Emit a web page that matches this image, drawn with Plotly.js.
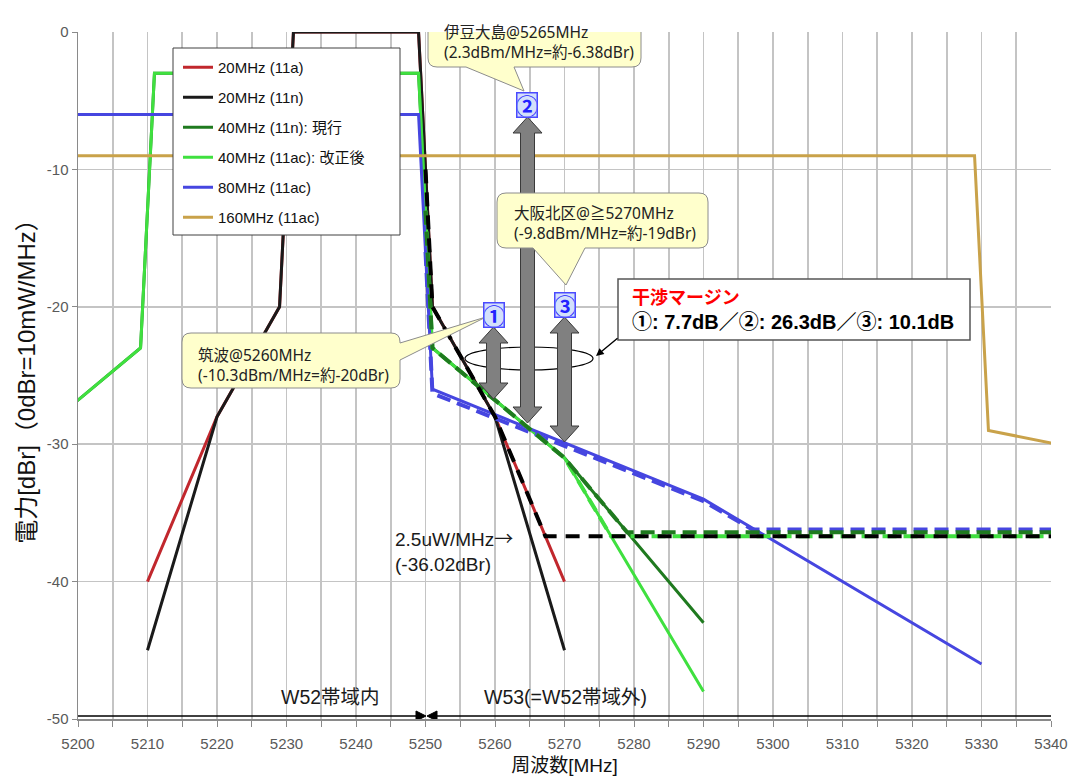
<!DOCTYPE html>
<html><head><meta charset="utf-8">
<script src="https://cdn.plot.ly/plotly-3.0.1.min.js"></script>
<style>html,body{margin:0;padding:0;background:#fff}#chart{width:1069px;height:778px}</style>
</head><body><div id="chart"></div>
<script>
// ---- data (frequency in MHz, power in dBr) ----
const freq20 = [5210, 5220, 5229, 5231, 5249, 5251, 5260, 5270];
const pwr20a = [-40, -28, -20, 0, 0, -20, -28, -40];
const pwr20n = [-45, -28, -20, 0, 0, -20, -28, -45];
const freq40 = [5190, 5209, 5211, 5249, 5251, 5270, 5290];
const pwr40n = [-31, -23, -3, -3, -23, -31, -43];
const pwr40ac = [-31, -23, -3, -3, -23, -31, -48];
const freq80 = [5169, 5171, 5249, 5251, 5290, 5330];
const pwr80 = [-26, -6, -6, -26, -34, -46];
const freq160 = [5169, 5171, 5329, 5331, 5410];
const pwr160 = [-29, -9, -9, -29, -37];
// proposed masks with 2.5uW/MHz floor (dashed)
const freqDash20 = [5250, 5251, 5260, 5267.25, 5340];
const pwrDash20 = [-10, -20, -28, -36.7, -36.7];
const freqDash40n = [5250, 5251, 5270, 5279, 5340];
const pwrDash40n = [-13, -23, -31, -36.4, -36.4];
const freqDash40ac = [5250, 5251, 5270, 5276.7, 5340];
const pwrDash40ac = [-13, -23, -31, -36.7, -36.7];
const freqDash80 = [5250, 5251, 5290, 5297, 5340];
const pwrDash80 = [-16, -26.3, -34.15, -36.2, -36.2];
const seriesNames = ['20MHz (11a)', '20MHz (11n)', '40MHz (11n): 現行', '40MHz (11ac): 改正後', '80MHz (11ac)', '160MHz (11ac)'];
const xTicks = [5200, 5210, 5220, 5230, 5240, 5250, 5260, 5270, 5280, 5290, 5300, 5310, 5320, 5330, 5340];
const yTicks = [0, -10, -20, -30, -40, -50];

const C = {red:'#c1272d', black:'#1a1a1a', dgreen:'#1f7a1f', lgreen:'#3fe03f', blue:'#4646e0', tan:'#c9a24a'};

// ---- layout geometry ----
const W = 1069, H = 778, ML = 78, MR = 18, MT = 32, MB = 59;
const XR = [5200, 5340], YR = [-50, 0];
function X(px){ return XR[0] + (px - ML) / (W - ML - MR) * (XR[1] - XR[0]); }
function Y(py){ return YR[1] - (py - MT) / (H - MT - MB) * (YR[1] - YR[0]); }
function P(px, py){ return X(px).toFixed(4) + ',' + Y(py).toFixed(4); }

function line(x, y, name, color, width, dash, show, grp){
  return {x:x, y:y, type:'scatter', mode:'lines', name:name, showlegend:show,
          legendgroup:grp, line:{color:color, width:width, dash:dash || 'solid'},
          hoverinfo:'skip'};
}
const traces = [
  line(freq20, pwr20a, seriesNames[0], C.red, 3, null, true, 'g0'),
  line(freq20, pwr20n, seriesNames[1], C.black, 3, null, true, 'g1'),
  line(freq40, pwr40n, seriesNames[2], C.dgreen, 3, null, true, 'g2'),
  line(freq40, pwr40ac, seriesNames[3], C.lgreen, 3, null, true, 'g3'),
  line(freq80, pwr80, seriesNames[4], C.blue, 3, null, true, 'g4'),
  line(freq160, pwr160, seriesNames[5], C.tan, 3, null, true, 'g5'),
  line(freqDash80, pwrDash80, 'd80', C.blue, 4, '14px,7px', false, 'd'),
  line(freqDash40ac, pwrDash40ac, 'd40ac', C.lgreen, 4, '14px,7px', false, 'd'),
  line(freqDash40n, pwrDash40n, 'd40n', C.dgreen, 4, '14px,7px', false, 'd'),
  line(freqDash20, pwrDash20, 'd20', '#000', 4, '14px,9px', false, 'd')
];

function bubble(x0, y0, x1, y1, r, ptr){
  let d = 'M' + P(x0 + r, y0) + ' L' + P(x1 - r, y0) + ' Q' + P(x1, y0) + ' ' + P(x1, y0 + r);
  if (ptr.side === 'right') d += ' L' + P(x1, ptr.a) + ' L' + P(ptr.tx, ptr.ty) + ' L' + P(x1, ptr.b);
  d += ' L' + P(x1, y1 - r) + ' Q' + P(x1, y1) + ' ' + P(x1 - r, y1);
  if (ptr.side === 'bottom') d += ' L' + P(ptr.b, y1) + ' L' + P(ptr.tx, ptr.ty) + ' L' + P(ptr.a, y1);
  d += ' L' + P(x0 + r, y1) + ' Q' + P(x0, y1) + ' ' + P(x0, y1 - r) + ' L' + P(x0, y0 + r) + ' Q' + P(x0, y0) + ' ' + P(x0 + r, y0) + ' Z';
  return {type:'path', xref:'x', yref:'y', path:d, fillcolor:'#FFFFCC', line:{color:'#8c8c8c', width:1}, layer:'above'};
}
function dblArrow(cx, ty, by){
  const sw = 7, hw = 14.5, hh = 16;
  const pts = [[cx, ty], [cx + hw, ty + hh], [cx + sw, ty + hh], [cx + sw, by - hh], [cx + hw, by - hh], [cx, by],
               [cx - hw, by - hh], [cx - sw, by - hh], [cx - sw, ty + hh], [cx - hw, ty + hh]];
  const d = 'M' + pts.map(p => P(p[0], p[1])).join(' L') + ' Z';
  return {type:'path', xref:'x', yref:'y', path:d, fillcolor:'#808080', line:{color:'#3a3a3a', width:1}, layer:'above'};
}
function tri(pts){
  return {type:'path', xref:'x', yref:'y', path:'M' + pts.map(p => P(p[0], p[1])).join(' L') + ' Z',
          fillcolor:'#000', line:{color:'#000', width:1}, layer:'above'};
}

const shapes = [
  // legend background box
  {type:'rect', xref:'x', yref:'y', x0:X(173), x1:X(400), y0:Y(48), y1:Y(235), fillcolor:'#fff', line:{color:'#404040', width:1}, layer:'above'},
  // W52 / W53 band arrows
  {type:'line', xref:'x', yref:'y', x0:X(ML), x1:X(418), y0:Y(716), y1:Y(716), line:{color:'#000', width:1.5}, layer:'above'},
  {type:'line', xref:'x', yref:'y', x0:X(435), x1:X(W - MR), y0:Y(716), y1:Y(716), line:{color:'#000', width:1.5}, layer:'above'},
  tri([[416, 711], [426, 716], [416, 721]]),
  tri([[437, 711], [427, 716], [437, 721]]),
  // ellipse
  {type:'circle', xref:'x', yref:'y', x0:X(465), x1:X(593), y0:Y(347), y1:Y(370), line:{color:'#000', width:1.2}, layer:'above'},
  dblArrow(493.5, 327, 399),
  dblArrow(527.5, 117, 423),
  dblArrow(564.5, 317, 442),
  bubble(428, 12, 641, 67, 9, {side:'bottom', a:466, b:514, tx:524, ty:91}),
  bubble(497, 193, 708, 248, 9, {side:'bottom', a:533, b:585, tx:566, ty:285}),
  bubble(182, 333, 400, 388, 9, {side:'right', a:343, b:360, tx:486, ty:317}),
  // interference margin box
  {type:'rect', xref:'x', yref:'y', x0:X(618), x1:X(970), y0:Y(279), y1:Y(340), fillcolor:'#fff', line:{color:'#555', width:1.5}, layer:'above'}
];

const JP = 'Noto Sans, Noto Sans CJK JP, sans-serif';
const AR = 'Liberation Sans, Noto Sans CJK JP, sans-serif';
function txt(px, py, text, size, color, family, extra){
  return Object.assign({xref:'x', yref:'y', x:X(px), y:Y(py), text:text, showarrow:false,
    xanchor:'left', yanchor:'middle', align:'left', font:{size:size, color:color, family:family}}, extra || {});
}
function marker(px, py, text){
  return {xref:'x', yref:'y', x:X(px), y:Y(py), text:'<b>' + text + '</b>', showarrow:false, xanchor:'center', yanchor:'middle',
    font:{size:23, color:'#2323ff', family:'Noto Sans CJK JP'}, bgcolor:'#d3e0fb', bordercolor:'#4a4aff',
    borderwidth:1.5, borderpad:0, width:19, height:23};
}
const annotations = [
  txt(442, 42, '伊豆大島@5265MHz<br>(2.3dBm/MHz=約-6.38dBr)', 15.5, '#222', JP),
  txt(512, 222.5, '大阪北区@≧5270MHz<br>(-9.8dBm/MHz=約-19dBr)', 15.5, '#222', JP),
  txt(196, 365, '筑波@5260MHz<br>(-10.3dBm/MHz=約-20dBr)', 15.5, '#222', JP),
  txt(630, 298, '<b>干渉マージン</b>', 18, '#ff0000', AR),
  txt(630, 322, '<b>①: 7.7dB／②: 26.3dB／③: 10.1dB</b>', 20, '#000', AR),
  txt(393, 549.5, '2.5uW/MHz<span style="font-family:Noto Sans CJK JP">→</span><br>(-36.02dBr)', 19, '#1a1a1a', AR),
  txt(279, 697, 'W52帯域内', 19.5, '#1a1a1a', AR),
  txt(482, 697, 'W53(=W52帯域外)', 19.5, '#1a1a1a', AR),
  marker(493.5, 315, '①'),
  marker(527, 105, '②'),
  marker(565, 305, '③'),
  {xref:'x', yref:'y', x:X(596), y:Y(356), ax:X(619), ay:Y(337), axref:'x', ayref:'y', text:'',
   showarrow:true, arrowhead:2, arrowsize:1.1, arrowwidth:1.4, arrowcolor:'#000', standoff:0}
];

const grid = '#c4c4c4';
const layout = {
  width:W, height:H, margin:{l:ML, r:MR, t:MT, b:MB}, paper_bgcolor:'#fff', plot_bgcolor:'#fff',
  font:{family:AR, color:'#595959', size:15},
  showlegend:true,
  legend:{x:(178 - ML) / (W - ML - MR), y:1 - (51 - MT) / (H - MT - MB), xanchor:'left', yanchor:'top',
          bgcolor:'rgba(0,0,0,0)', borderwidth:0, tracegroupgap:7.5,
          font:{family:AR, size:15, color:'#111'}},
  xaxis:{range:XR, tickvals:xTicks, ticktext:xTicks.map(String), showgrid:true, gridcolor:grid, gridwidth:1.8,
         zeroline:false, showline:true, linecolor:'#8a8a8a', linewidth:1.5, ticks:'outside', ticklen:6, tickcolor:'#8a8a8a',
         tickfont:{size:15, color:'#595959', family:AR}, ticklabelstandoff:4,
         minor:{dtick:5, showgrid:true, gridcolor:grid, gridwidth:1.8, ticks:'outside', ticklen:6, tickcolor:'#8a8a8a'},
         title:{text:'周波数[MHz]', font:{size:19, color:'#111', family:AR}, standoff:8}},
  yaxis:{range:YR, tickvals:yTicks, ticktext:yTicks.map(String), showgrid:true, gridcolor:grid, gridwidth:1.8,
         zeroline:false, showline:true, linecolor:'#8a8a8a', linewidth:1.5, ticks:'outside', ticklen:5, tickcolor:'#8a8a8a',
         tickfont:{size:15, color:'#595959', family:AR},
         title:{text:'電力[dBr]（0dBr=10mW/MHz）', font:{size:24, color:'#111', family:AR}, standoff:4}},
  shapes:shapes, annotations:annotations
};
Plotly.newPlot('chart', traces, layout, {displayModeBar:false, staticPlot:true});
</script></body></html>
